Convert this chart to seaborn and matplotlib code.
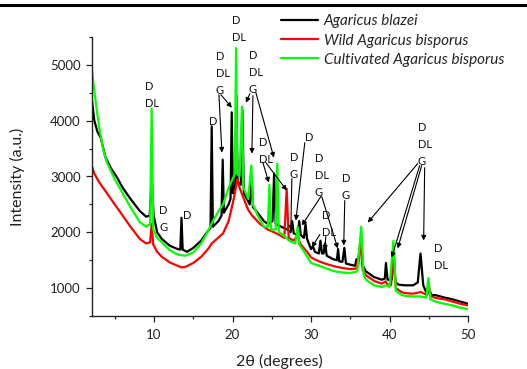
import matplotlib
matplotlib.use("Agg")
import numpy as np
import pandas as pd
import seaborn as sns
import matplotlib.pyplot as plt
from matplotlib.ticker import MultipleLocator
from matplotlib.transforms import offset_copy

# ---------------- data ----------------
sample_names = ["Agaricus blazei", "Wild Agaricus bisporus", "Cultivated Agaricus bisporus"]
sample_colors = ["#000000", "#ff0000", "#00ff00"]

blazei_2theta = [2.1, 2.4, 2.8, 3.2, 3.8, 4.5, 5.3, 6.0, 7.0, 8.2, 9.0, 9.45, 9.7, 9.95, 10.4, 11.0,
                 12.0, 13.0, 13.35, 13.5, 13.65, 14.2, 15.0, 16.0, 16.8, 17.2, 17.35, 17.5, 18.2, 18.6,
                 18.75, 18.9, 19.5, 19.75, 19.9, 20.05, 20.35, 20.5, 20.65, 21.05, 21.25, 21.45, 22.2,
                 22.45, 22.6, 23.2, 24.0, 24.5, 25.1, 25.3, 25.5, 26.2, 27.0, 27.4, 27.6, 27.8, 28.3,
                 28.5, 28.7, 29.1, 29.3, 29.5, 30.0, 30.25, 30.5, 31.0, 31.2, 31.4, 31.6, 31.8, 32.0,
                 32.8, 33.3, 33.45, 33.6, 34.0, 34.25, 34.45, 35.0, 35.6, 35.8, 36.0, 36.35, 36.6, 37.0,
                 38.0, 39.0, 39.4, 39.55, 39.75, 40.3, 40.5, 40.75, 41.2, 42.0, 43.0, 43.6, 43.95, 44.3,
                 44.8, 45.0, 45.3, 46.0, 47.0, 48.0, 49.0, 50.0]
blazei_intensity = [4350, 4000, 3800, 3700, 3350, 3150, 2980, 2800, 2600, 2380, 2280, 2300, 2980, 2300, 2000, 1880,
                    1760, 1700, 1690, 2260, 1690, 1650, 1720, 1850, 2010, 2080, 3900, 2100, 2200, 2300,
                    3300, 2350, 2500, 2600, 4150, 2700, 2850, 4450, 2900, 2850, 4200, 2700, 2500,
                    3000, 2450, 2350, 2200, 2150, 2200, 3050, 2150, 2100, 2050, 2000, 2200, 1980, 1950,
                    2200, 1950, 1900, 2150, 1880, 1700, 1750, 1650, 1620, 1850, 1620, 1620, 1800, 1580,
                    1520, 1500, 1700, 1480, 1470, 1720, 1440, 1420, 1400, 1520, 1420, 1900, 1400, 1300,
                    1200, 1150, 1170, 1450, 1150, 1150, 1700, 1100, 1060, 1050, 1050, 1100, 1620, 1050,
                    880, 1000, 880, 870, 830, 800, 760, 720]

wild_2theta = [2.1, 2.4, 3.0, 4.0, 5.0, 6.0, 7.0, 8.2, 9.0, 9.5, 9.7, 9.9, 10.4, 11.0, 12.0, 13.0, 13.5,
               14.0, 15.0, 16.0, 17.0, 17.35, 18.0, 18.8, 19.5, 20.0, 20.3, 20.6, 20.9, 21.3, 22.0, 22.5,
               23.5, 24.5, 25.3, 26.0, 26.6, 26.9, 27.15, 27.8, 28.3, 28.6, 29.0, 29.5, 30.0, 31.0, 32.0,
               33.0, 34.0, 35.0, 35.8, 36.3, 36.6, 37.0, 38.0, 39.0, 39.5, 39.75, 40.2, 40.5, 40.8, 41.5,
               42.0, 43.0, 44.0, 44.7, 44.95, 45.3, 46.0, 47.0, 48.0, 49.0, 50.0]
wild_intensity = [3180, 3050, 2900, 2700, 2500, 2300, 2100, 1880, 1800, 1820, 2150, 1780, 1650, 1560, 1460, 1400, 1370,
                  1380, 1450, 1560, 1720, 1800, 1880, 1980, 2200, 2500, 2700, 2950, 2800, 2650, 2400, 2300,
                  2150, 2050, 2000, 1950, 1900, 2780, 1900, 1850, 1950, 1800, 1730, 1650, 1550, 1480, 1430,
                  1390, 1360, 1340, 1350, 1780, 1320, 1230, 1130, 1080, 1120, 1060, 1050, 1700, 1000, 930,
                  910, 900, 930, 880, 1100, 850, 820, 800, 760, 720, 690]

cultivated_2theta = [2.1, 2.3, 2.6, 3.0, 3.5, 4.0, 5.0, 6.0, 7.0, 8.2, 9.0, 9.5, 9.7, 9.9, 10.4, 11.0, 12.0,
                     13.0, 14.0, 15.0, 16.0, 16.8, 17.5, 18.3, 18.8, 19.5, 20.0, 20.3, 20.45, 20.6, 20.9,
                     21.2, 21.4, 22.0, 22.4, 22.6, 23.2, 24.0, 24.5, 24.7, 24.9, 25.5, 25.7, 25.9, 26.5,
                     27.2, 28.0, 28.3, 28.5, 29.0, 30.0, 31.0, 32.0, 33.0, 34.0, 35.0, 35.9, 36.4, 36.7,
                     37.0, 38.0, 39.0, 39.6, 40.0, 40.5, 40.8, 41.5, 42.0, 43.0, 44.0, 44.7, 44.95, 45.2,
                     46.0, 47.0, 48.0, 49.0, 50.0]
cultivated_intensity = [4900, 4650, 4300, 3900, 3500, 3250, 2950, 2700, 2450, 2180, 2100, 2150, 4220, 2050, 1900, 1820, 1680,
                        1600, 1580, 1640, 1800, 2000, 2200, 2400, 2500, 2800, 2950, 3050, 5300, 3050, 3000,
                        4250, 2800, 2600, 3200, 2500, 2300, 2100, 2100, 2850, 2050, 2050, 3230, 2000, 1950,
                        1850, 1800, 2100, 1780, 1680, 1450, 1400, 1350, 1300, 1280, 1270, 1300, 2100, 1250,
                        1150, 1050, 1020, 1050, 1020, 1850, 950, 880, 860, 850, 850, 830, 1180, 800,
                        750, 720, 690, 650, 620]

# peak labels: (2theta, intensity at top of block, lines)
label_blocks = [
    (8.85, 4716, ["D", "DL"]),
    (19.92, 5897, ["D", "DL"]),
    (17.89, 5252, ["D", "DL", "G"]),
    (22.09, 5270, ["D", "DL", "G"]),
    (17.0, 4090, ["D"]),
    (23.36, 3714, ["D", "DL"]),
    (27.30, 3446, ["D", "G"]),
    (29.21, 3803, ["D"]),
    (30.48, 3428, ["D", "DL", "G"]),
    (31.37, 2408, ["D", "DL"]),
    (33.92, 3070, ["D", "G"]),
    (43.59, 3982, ["D", "DL", "G"]),
    (45.62, 1800, ["D", "DL"]),
    (10.64, 2497, ["D", "G"]),
    (13.69, 2408, ["D"]),
]
# arrows: (start 2theta, start intensity, tip 2theta, tip intensity)
label_arrows = [
    (18.27, 4465, 18.65, 3428), (18.52, 4465, 19.92, 4233),
    (22.21, 4483, 21.70, 4322), (22.60, 4447, 22.47, 3410), (22.98, 4501, 25.27, 3338),
    (23.87, 3249, 24.63, 2891), (24.25, 3249, 26.92, 2748),
    (27.56, 2963, 27.43, 2032),
    (29.21, 3607, 28.07, 2211),
    (31.25, 2640, 28.83, 2122), (31.37, 2640, 33.41, 1710),
    (31.12, 1961, 30.10, 1728), (31.88, 1925, 31.76, 1674),
    (34.30, 2569, 34.17, 1764),
    (43.59, 3231, 37.23, 2175), (43.84, 3195, 40.28, 1549), (44.10, 3195, 41.04, 1710),
    (44.48, 3159, 44.35, 1853),
]

frames = []
for name, xs, ys in zip(sample_names,
                        [blazei_2theta, wild_2theta, cultivated_2theta],
                        [blazei_intensity, wild_intensity, cultivated_intensity]):
    frames.append(pd.DataFrame({"two_theta": xs, "intensity": ys, "sample": name}))
df = pd.concat(frames, ignore_index=True)

# ---------------- figure ----------------
sns.set_style("ticks")
plt.rcParams["font.family"] = ["Lato", "DejaVu Sans"]

W, H = 527, 369
fig = plt.figure(figsize=(W / 100, H / 100), dpi=100)
ax = fig.add_axes([92 / W, 1 - 316 / H, (468 - 92) / W, (316 - 37) / H])

sns.lineplot(data=df, x="two_theta", y="intensity", hue="sample", hue_order=sample_names,
             palette=dict(zip(sample_names, sample_colors)), estimator=None, sort=False,
             linewidth=1.6, ax=ax, legend=False)

ax.set_xlim(2.1, 50)
ax.set_ylim(500, 5500)
ax.xaxis.set_major_locator(MultipleLocator(10))
ax.xaxis.set_minor_locator(MultipleLocator(5))
ax.yaxis.set_major_locator(MultipleLocator(1000))
ax.yaxis.set_minor_locator(MultipleLocator(500))
ax.tick_params(axis="both", which="major", direction="out", length=4, width=0.9, labelsize=9.5, colors="#222222")
ax.tick_params(axis="both", which="minor", direction="out", length=2.5, width=0.9)
ax.tick_params(axis="x", which="major", pad=5.5)
ax.tick_params(axis="y", which="major", pad=4)
for s in ["top", "right"]:
    ax.spines[s].set_visible(False)
for s in ["left", "bottom"]:
    ax.spines[s].set_linewidth(1.0)
    ax.spines[s].set_color("#222222")
ax.set_xlabel("")
ax.set_ylabel("")

fig.text(279.5 / W, 1 - 361 / H, "2θ (degrees)", ha="center", va="center", fontsize=11.5, color="#222222")
fig.text(17.5 / W, 1 - 177 / H, "Intensity (a.u.)", ha="center", va="center", rotation=90,
         fontsize=11.5, color="#222222")

# legend
handles = ax.get_lines()[:3]
fig.legend(handles, sample_names, loc="upper left", bbox_to_anchor=(281 / W, 1 - 14.5 / H),
           frameon=False, borderpad=0, borderaxespad=0, handlelength=2.4, handletextpad=0.4,
           labelspacing=0.33, prop={"style": "italic", "size": 11})

# peak labels
for x, y, lines in label_blocks:
    for i, s in enumerate(lines):
        tr = offset_copy(ax.transData, fig=fig, x=0, y=-i * 17, units="dots")
        ax.text(x, y, s, transform=tr, ha="left", va="top", fontsize=8, color="#111111", clip_on=False)
for x0, y0, x1, y1 in label_arrows:
    ax.annotate("", xy=(x1, y1), xytext=(x0, y0), annotation_clip=False,
                arrowprops=dict(arrowstyle="-|>", color="black", lw=0.8, mutation_scale=7,
                                shrinkA=0, shrinkB=0))

# thick rule at the very top
fig.add_artist(plt.Line2D([0, 1], [1 - 4.7 / H, 1 - 4.7 / H], color="black", lw=2.2,
                          transform=fig.transFigure))

fig.savefig("out.png", dpi=100)
